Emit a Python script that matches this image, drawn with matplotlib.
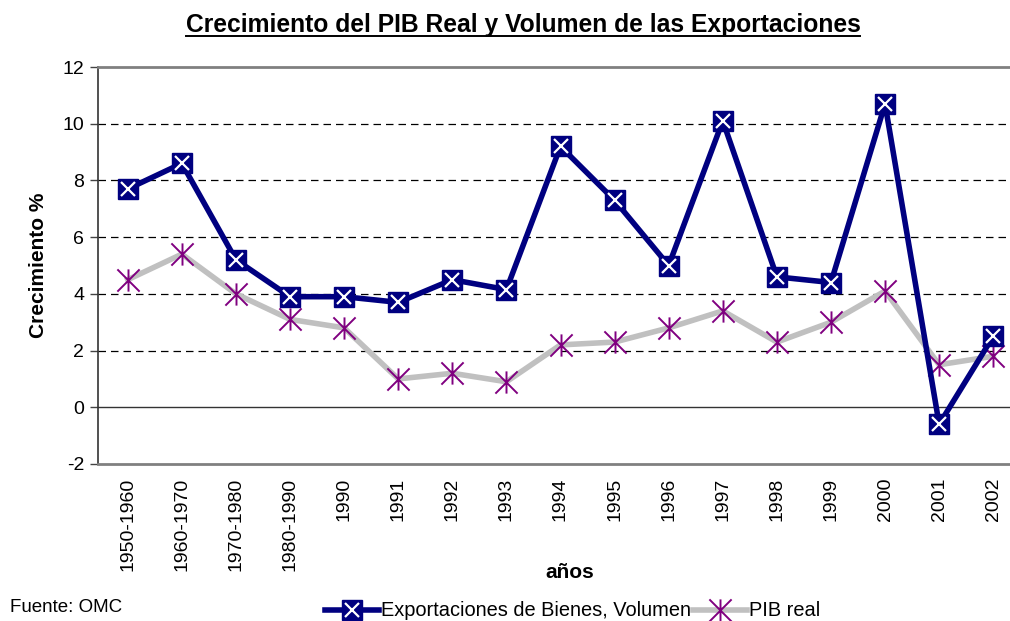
import matplotlib
matplotlib.use("Agg")
import matplotlib.pyplot as plt
from matplotlib.path import Path
from matplotlib.lines import Line2D
from matplotlib.legend_handler import HandlerTuple

categories = ["1950-1960", "1960-1970", "1970-1980", "1980-1990", "1990", "1991",
              "1992", "1993", "1994", "1995", "1996", "1997", "1998", "1999",
              "2000", "2001", "2002"]
exportaciones = [7.7, 8.6, 5.2, 3.9, 3.9, 3.7, 4.5, 4.15, 9.2, 7.3, 5.0, 10.1, 4.6, 4.4, 10.7, -0.6, 2.5]
pib_real = [4.5, 5.4, 4.0, 3.1, 2.8, 1.0, 1.2, 0.9, 2.2, 2.3, 2.8, 3.4, 2.3, 3.0, 4.1, 1.5, 1.8]
yticks = [-2, 0, 2, 4, 6, 8, 10, 12]

plt.rcParams['font.family'] = ['Liberation Sans', 'DejaVu Sans']

fig = plt.figure(figsize=(10.10, 6.21), dpi=100)
ax = fig.add_axes([98/1010, 1-464/621, (1023-98)/1010, (464-67)/621])

x = list(range(len(categories)))

asterisk = Path([(0, -1), (0, 1), (-1, -1), (1, 1), (-1, 1), (1, -1)],
                [Path.MOVETO, Path.LINETO, Path.MOVETO, Path.LINETO, Path.MOVETO, Path.LINETO])

for y in [2, 4, 6, 8, 10]:
    ax.axhline(y, color='black', lw=0.9, ls=(0, (6, 4)), zorder=1)
ax.axhline(0, color='#333333', lw=1.0, zorder=1)

exp_style = dict(color='#000080', lw=4, marker='s', ms=14, mfc='#000080', mec='#000080')
xw_style = dict(ls='none', marker='x', ms=10, mec='white', mew=1.6)
pib_style = dict(color='#C0C0C0', lw=4, marker=asterisk, ms=16, mfc='none', mec='#800080', mew=1.4)

ax.plot(x, pib_real, zorder=3, **pib_style)
ax.plot(x, exportaciones, zorder=4, **exp_style)
ax.plot(x, exportaciones, zorder=5, **xw_style)

ax.set_xlim(-0.55, len(categories) - 0.45)
ax.set_ylim(-2, 12)
ax.set_yticks(yticks)
ax.set_yticklabels([str(v) for v in yticks], fontsize=14)
ax.set_xticks(x)
ax.set_xticklabels(categories, rotation=90, fontsize=14)
ax.tick_params(axis='x', length=0, pad=10)
ax.tick_params(axis='y', length=6, width=1, color='#444444', pad=4)

ax.spines['left'].set_color('#333333')
ax.spines['left'].set_linewidth(1.2)
for s in ['top', 'bottom', 'right']:
    ax.spines[s].set_color('#808080')
    ax.spines[s].set_linewidth(2)

ax.set_ylabel("Crecimiento %", fontsize=15, fontweight='bold', labelpad=10)
fig.text(570/1010, 1-573/621, "años", ha='center', va='center', fontsize=15, fontweight='bold')
fig.text(523/1010, 1-32/621, "Crecimiento del PIB Real y Volumen de las Exportaciones",
         ha='center', va='baseline', fontsize=17.7, fontweight='bold')
fig.add_artist(Line2D([186/1010, 860/1010], [1-35.5/621, 1-35.5/621], color='black', lw=1.4))
fig.text(10/1010, 1-607/621, "Fuente: OMC", ha='left', va='center', fontsize=13.5)

h_exp = (Line2D([], [], **exp_style), Line2D([], [], **xw_style))
h_pib = Line2D([], [], **pib_style)
fig.legend([h_exp, h_pib], ["Exportaciones de Bienes, Volumen", "PIB real"],
           handler_map={tuple: HandlerTuple(ndivide=1, pad=0)},
           loc='center', bbox_to_anchor=(573/1010, 1-611/621), ncol=2, frameon=False,
           fontsize=14.4, handlelength=2.7, handletextpad=0.1, columnspacing=0.1,
           borderpad=0, borderaxespad=0)

fig.savefig("out.png", dpi=100)
